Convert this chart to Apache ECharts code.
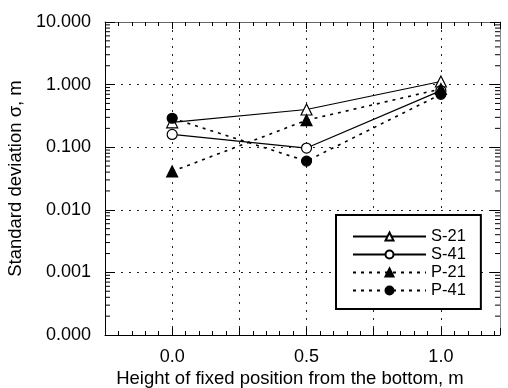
<!DOCTYPE html>
<html><head><meta charset="utf-8">
<script src="https://cdn.jsdelivr.net/npm/echarts@6/dist/echarts.min.js"></script>
<style>html,body{margin:0;padding:0;background:#fff}#c{width:508px;height:388px}</style>
</head><body><div id="c"></div>
<script>
var xValues = [0.0, 0.5, 1.0];
var s21 = [0.25, 0.40, 1.12];
var s41 = [0.16, 0.097, 0.80];
var p21 = [0.041, 0.27, 0.85];
var p41 = [0.29, 0.060, 0.70];
var xTickLabels = ['0.0', '0.5', '1.0'];
var seriesNames = ['S-21', 'S-41', 'P-21', 'P-41'];

var XMIN = -0.25, XMAX = 1.22, YMIN = 0.0001, YMAX = 10;
// log minor tick positions (2..9 per decade) for axis decoration
var minorY = [];
for (var d = -4; d < 1; d++) { for (var m = 2; m <= 9; m++) minorY.push(m * Math.pow(10, d)); }

function pairs(arr){ return xValues.map(function(x,i){return [x, arr[i]];}); }
var FONT = 'Liberation Sans, Arial, sans-serif';

var chart = echarts.init(document.getElementById('c'), null, {renderer:'canvas'});
function lineSeries(name, data, symbol, filled, dashed){
  return {
    name: name, type: 'line', data: pairs(data),
    symbol: symbol, symbolSize: symbol === 'triangle' ? 11 : 10,
    lineStyle: {color:'#000', width: dashed ? 1.6 : 1.2, type: dashed ? [3,5] : 'solid'},
    itemStyle: {color: filled ? '#000' : '#fff', borderColor:'#000', borderWidth: 1.2},
    emphasis: {disabled:true}, animation:false, z: 5
  };
}
chart.setOption({
  animation:false,
  backgroundColor:'#fff',
  grid:{left:105, right:8, top:22, bottom:53, outerBoundsMode:'none', containLabel:false},
  graphic:[{type:'text', x:290, y:369,
    style:{text:'Height of fixed position from the bottom, m', textAlign:'center',
      font:'18.5px Liberation Sans, Arial, sans-serif', fill:'#000'}}],
  xAxis:[{
    type:'value', min:XMIN, max:XMAX, interval:0.25, position:'bottom',
    axisLine:{show:true, onZero:false, lineStyle:{color:'#000', width:1}},
    axisTick:{show:true, inside:true, length:7, lineStyle:{color:'#000'}},
    minorTick:{show:true, splitNumber:5, length:4, lineStyle:{color:'#000'}},
    splitLine:{show:true, lineStyle:{color:'#222', type:[2,6], width:1}},
    axisLabel:{margin:13, fontFamily:FONT, fontSize:18, color:'#000',
      formatter:function(v){ var i = xValues.indexOf(Math.round(v*1000)/1000); return i>=0 ? xTickLabels[i] : ''; }}
  },{
    type:'value', min:XMIN, max:XMAX, interval:0.25, position:'top',
    axisLine:{show:true, onZero:false, lineStyle:{color:'#666', width:1}},
    axisTick:{show:true, inside:true, length:7, lineStyle:{color:'#000'}},
    minorTick:{show:true, splitNumber:5, length:4, lineStyle:{color:'#000'}},
    splitLine:{show:false}, axisLabel:{show:false}
  }],
  yAxis:[{
    type:'log', logBase:10, min:YMIN, max:YMAX, position:'left',
    name:'Standard deviation σ, m', nameLocation:'middle', nameGap:76,
    nameTextStyle:{fontFamily:FONT, fontSize:18.5, color:'#000'},
    axisLine:{show:true, onZero:false, lineStyle:{color:'#000', width:1}},
    axisTick:{show:true, inside:true, length:10, lineStyle:{color:'#000'}},
    minorTick:{show:false},
    splitLine:{show:true, lineStyle:{color:'#222', type:[2,6], width:1}},
    axisLabel:{margin:14, fontFamily:FONT, fontSize:18, color:'#000',
      formatter:function(v){ return v.toFixed(3); }}
  },{
    type:'log', logBase:10, min:YMIN, max:YMAX, position:'right',
    axisLine:{show:true, onZero:false, lineStyle:{color:'#888', width:1}},
    axisTick:{show:true, inside:true, length:10, lineStyle:{color:'#000'}},
    splitLine:{show:false}, axisLabel:{show:false}
  }],
  legend:{
    left:336, top:215, orient:'vertical', data:seriesNames,
    backgroundColor:'#fff', borderColor:'#000', borderWidth:2, borderRadius:0,
    padding:[13,15,10,16], itemGap:1, itemWidth:73, itemHeight:10,
    textStyle:{fontFamily:FONT, fontSize:16.5, color:'#000', lineHeight:17},
    selectedMode:false
  },
  series:[
    lineSeries('S-21', s21, 'triangle', false, false),
    lineSeries('S-41', s41, 'circle', false, false),
    lineSeries('P-21', p21, 'triangle', true, true),
    lineSeries('P-41', p41, 'circle', true, true),
    {
      type:'custom', name:'minorTicks', silent:true, z:3,
      data: minorY.map(function(v){return [v];}),
      encode:{y:0},
      renderItem:function(params, api){
        var v = api.value(0);
        var l = api.coord([XMIN, v]);
        var r = api.coord([XMAX, v]);
        return {type:'group', children:[
          {type:'line', shape:{x1:l[0], y1:l[1], x2:l[0]+5, y2:l[1]}, style:{stroke:'#000', lineWidth:1}},
          {type:'line', shape:{x1:r[0]-5, y1:r[1], x2:r[0], y2:r[1]}, style:{stroke:'#000', lineWidth:1}}
        ]};
      }
    }
  ]
});
</script></body></html>
